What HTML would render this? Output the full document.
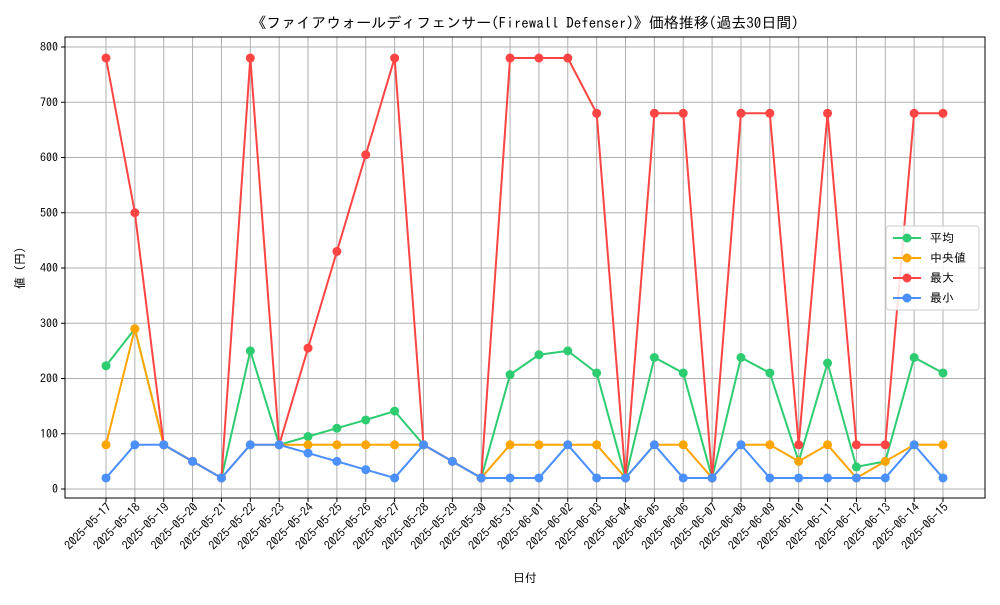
<!DOCTYPE html>
<html><head><meta charset="utf-8"><style>
body{margin:0;background:#fff}
svg text{font-family:"IPAGothic","Noto Sans CJK JP","Liberation Sans",sans-serif;fill:#000}
</style></head><body>
<svg id="c" width="1000" height="600" xmlns="http://www.w3.org/2000/svg">
<rect width="1000" height="600" fill="#fff"/>
<text x="525" y="28" font-size="15" text-anchor="middle">《ファイアウォールディフェンサー(Firewall Defenser)》価格推移(過去30日間)</text>
<text x="525" y="582" font-size="12" text-anchor="middle">日付</text>
<text x="24" y="268" font-size="12" text-anchor="middle" transform="rotate(-90 24 268)">値 (円)</text>
<g id="grid"></g><g id="series"></g><g id="axes"></g><g id="legend"></g>
</svg>
<script>
const dates=["2025-05-17","2025-05-18","2025-05-19","2025-05-20","2025-05-21","2025-05-22","2025-05-23","2025-05-24","2025-05-25","2025-05-26","2025-05-27","2025-05-28","2025-05-29","2025-05-30","2025-05-31","2025-06-01","2025-06-02","2025-06-03","2025-06-04","2025-06-05","2025-06-06","2025-06-07","2025-06-08","2025-06-09","2025-06-10","2025-06-11","2025-06-12","2025-06-13","2025-06-14","2025-06-15"];
const avgVals=[223,290,80,50,20,250,80,95,110,125,141,80,50,20,207,243,250,210,20,238,210,20,238,210,50,228,40,50,238,210];
const medVals=[80,290,80,50,20,80,80,80,80,80,80,80,50,20,80,80,80,80,20,80,80,20,80,80,50,80,20,50,80,80];
const maxVals=[780,500,80,50,20,780,80,255,430,605,780,80,50,20,780,780,780,680,20,680,680,20,680,680,80,680,80,80,680,680];
const minVals=[20,80,80,50,20,80,80,65,50,35,20,80,50,20,20,20,80,20,20,80,20,20,80,20,20,20,20,20,80,20];
const yTicks=[0,100,200,300,400,500,600,700,800];
const seriesNames=["平均","中央値","最大","最小"];
const colors=["#2ecc71","#ffa500","#ff4444","#4a90ff"];
const NS="http://www.w3.org/2000/svg";
const L=65,R=985,T=37,B=498;
const xs=i=>106+i*(943-106)/(dates.length-1);
const ys=v=>489-v*0.5525;
function mk(tag,attrs,parent){const e=document.createElementNS(NS,tag);for(const k in attrs)e.setAttribute(k,attrs[k]);parent.appendChild(e);return e;}
const grid=document.getElementById('grid'),axes=document.getElementById('axes'),ser=document.getElementById('series'),leg=document.getElementById('legend');
dates.forEach((d,i)=>{const x=xs(i);
 const g=mk('line',{x1:x,x2:x,y1:T,y2:B,stroke:'#b0b0b0','stroke-width':1},grid);
 
 mk('line',{x1:x,x2:x,y1:B,y2:B+4,stroke:'#000'},axes);
 const t=mk('text',{x:x+6,y:B+10,'font-size':12,'text-anchor':'end',transform:`rotate(-45 ${x+6} ${B+10})`},axes);
 t.textContent=d;
});
yTicks.forEach(v=>{const y=ys(v);
 const g=mk('line',{x1:L,x2:R,y1:y,y2:y,stroke:'#b0b0b0','stroke-width':1},grid);
 
 mk('line',{x1:L-4,x2:L,y1:y,y2:y,stroke:'#000'},axes);
 const t=mk('text',{x:L-7,y:y+4,'font-size':12,'text-anchor':'end'},axes);
 t.textContent=v;
});
const frame=mk('rect',{x:L,y:T,width:R-L,height:B-T,fill:'none',stroke:'#000','stroke-width':1},axes);

[avgVals,medVals,maxVals,minVals].forEach((vals,s)=>{
 const g=mk('g',{},ser);
 
 mk('polyline',{points:vals.map((v,i)=>xs(i)+','+ys(v)).join(' '),fill:'none',stroke:colors[s],'stroke-width':2},g);
 vals.forEach((v,i)=>{const c=mk('circle',{cx:xs(i),cy:ys(v),r:4.5,fill:colors[s]},g);
  });
});
const lb=mk('rect',{x:886,y:226,width:93,height:84,fill:'#fff','fill-opacity':0.85,stroke:'#ccc',rx:3},leg);

seriesNames.forEach((n,s)=>{const y=238+s*20;
 const g=mk('g',{},leg);
 
 mk('line',{x1:893,x2:921,y1:y,y2:y,stroke:colors[s],'stroke-width':2},g);
 mk('circle',{cx:907,cy:y,r:4.5,fill:colors[s]},g);
 const t=mk('text',{x:930,y:y+4,'font-size':12},g);t.textContent=n;
});
</script>
</body></html>
